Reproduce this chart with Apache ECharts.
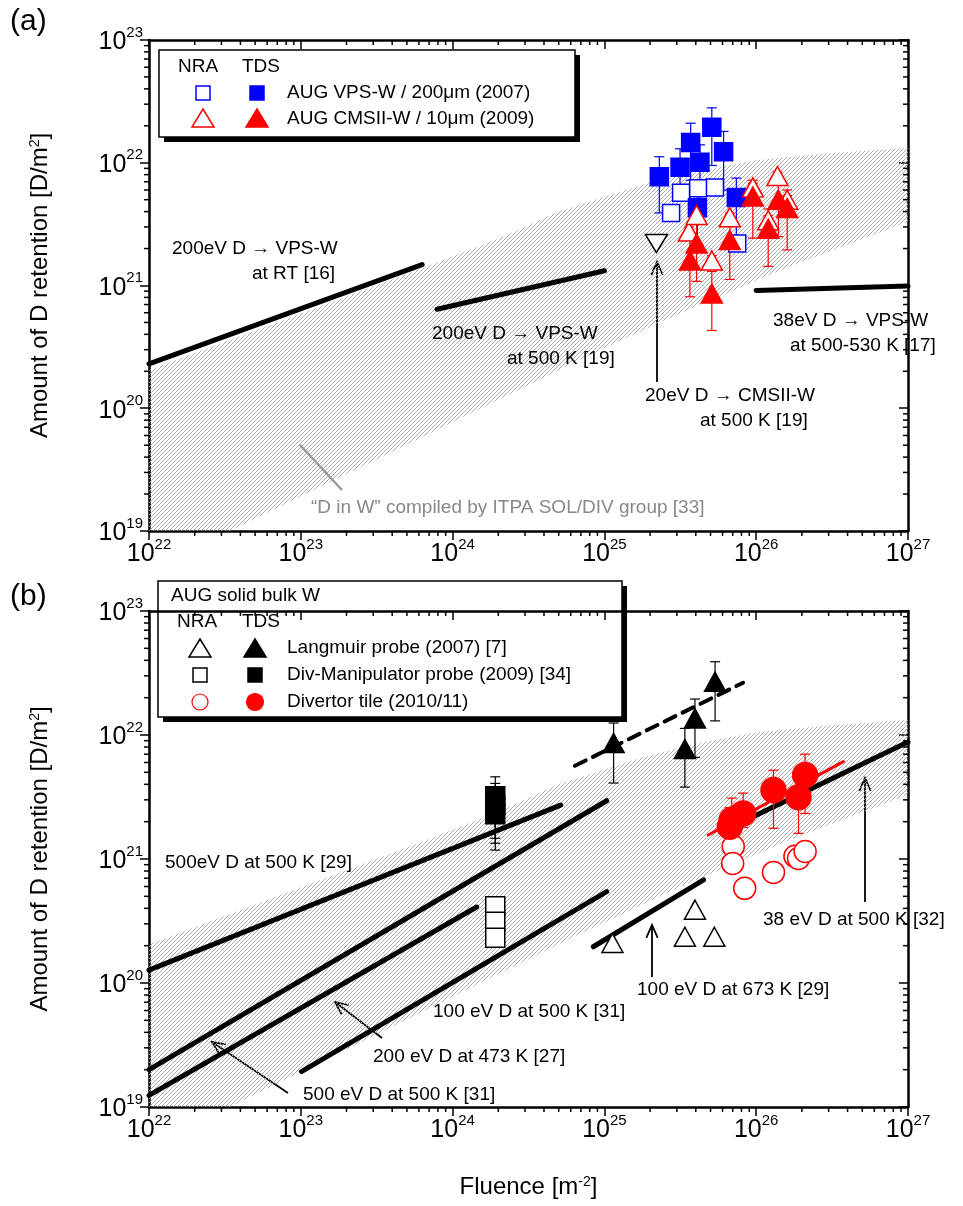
<!DOCTYPE html>
<html>
<head>
<meta charset="utf-8">
<script src="https://cdn.jsdelivr.net/npm/echarts@6.0.0/dist/echarts.min.js"></script>
<style>
html, body { margin: 0; padding: 0; background: #fff; }
#chart { width: 963px; height: 1206px; }
</style>
</head>
<body>
<div id="chart"></div>
<script>
const FONT = 'Liberation Sans, Arial, sans-serif';

/* ---- panel (a): AUG VPS-W and CMSII-W coatings ---- */
// [fluence, retention, errLow, errHigh]
const vpsTds = [
    [2.3e25, 7.7e21, 3.9e21, 1.12e22],
    [3.15e25, 9.2e21, 5.5e21, 1.3e22],
    [3.7e25, 1.46e22, 7.2e21, 2.1e22],
    [4.26e25, 1.01e22, 4.4e21, 1.4e22],
    [5.1e25, 1.95e22, 9.5e21, 2.8e22],
    [6.1e25, 1.23e22, 6.0e21, 1.8e22],
    [7.4e25, 5.2e21, 2.5e21, 7.5e21],
    [4.1e25, 4.3e21, 2.0e21, 6.5e21]
];
const vpsNra = [
    [2.75e25, 3.9e21, 3.6e21, 4.2e21],
    [3.2e25, 5.7e21, 5.3e21, 6.2e21],
    [4.15e25, 6.2e21, 5.8e21, 6.7e21],
    [5.35e25, 6.3e21, 5.9e21, 6.8e21],
    [7.5e25, 2.2e21, 2.05e21, 2.4e21]
];
const cmsTds = [
    [3.66e25, 1.6e21, 8.1e20, 2.35e21],
    [4.05e25, 2.2e21, 1.08e21, 3.2e21],
    [5.1e25, 8.6e20, 4.3e20, 1.3e21],
    [6.7e25, 2.35e21, 1.12e21, 3.3e21],
    [9.5e25, 5.3e21, 2.43e21, 7.2e21],
    [1.2e26, 2.9e21, 1.43e21, 4.2e21],
    [1.4e26, 5.0e21, 2.5e21, 7.0e21],
    [1.6e26, 4.27e21, 1.95e21, 6.0e21]
];
const cmsNra = [
    [3.6e25, 2.75e21, 2.5e21, 3.0e21],
    [4.05e25, 3.75e21, 3.4e21, 4.1e21],
    [5.1e25, 1.6e21, 1.45e21, 1.75e21],
    [6.7e25, 3.6e21, 3.3e21, 3.9e21],
    [9.5e25, 6.3e21, 5.8e21, 6.8e21],
    [1.2e26, 3.4e21, 3.1e21, 3.7e21],
    [1.38e26, 7.8e21, 7.2e21, 8.4e21],
    [1.6e26, 5.0e21, 4.6e21, 5.4e21]
];
const cmsRef20eV = [[2.2e25, 2.2e21]];
const lineRT = [[1e22, 2.3e20], [6.3e23, 1.48e21]];
const line500K19 = [[7.9e23, 6.4e20], [1e25, 1.32e21]];
const line38eV17 = [[1e26, 9.1e20], [1e27, 9.9e20]];

/* ---- panel (b): AUG solid bulk W ---- */
const langTds = [
    [1.15e25, 8.6e21, 4.1e21, 1.25e22],
    [3.39e25, 7.7e21, 3.8e21, 1.13e22],
    [3.95e25, 1.36e22, 6.6e21, 1.95e22],
    [5.36e25, 2.69e22, 1.3e22, 3.9e22]
];
const langNra = [[1.13e25, 2.1e20], [3.39e25, 2.36e20], [3.95e25, 3.9e20], [5.3e25, 2.36e20]];
const divTds = [
    [1.91e24, 3.2e21, 1.47e21, 4.6e21],
    [1.91e24, 2.7e21, 1.34e21, 4.07e21],
    [1.91e24, 2.3e21, 1.18e21, 3.4e21]
];
const divNra = [[1.91e24, 4.15e20], [1.91e24, 3.12e20], [1.91e24, 2.32e20]];
const tileTds = [
    [6.7e25, 1.82e21, 1.2e21, 2.6e21],
    [6.9e25, 2.07e21, 1.6e21, 3.1e21],
    [8.2e25, 2.33e21, 1.8e21, 3.4e21],
    [1.3e26, 3.6e21, 1.77e21, 5.2e21],
    [1.9e26, 3.15e21, 1.61e21, 4.5e21],
    [2.1e26, 4.75e21, 2.33e21, 7.0e21]
];
const tileNra = [
    [7.06e25, 1.26e21, 1.16e21, 1.36e21],
    [7.0e25, 9.2e20, 8.5e20, 1.0e21],
    [8.4e25, 5.8e20, 5.4e20, 6.2e20],
    [1.3e26, 7.8e20, 7.2e20, 8.4e20],
    [1.8e26, 1.05e21, 9.7e20, 1.13e21],
    [1.9e26, 1.01e21, 9.3e20, 1.09e21],
    [2.1e26, 1.15e21, 1.06e21, 1.24e21]
];
const line500eV29 = [[1e22, 1.27e20], [5.15e24, 2.72e21]];
const line500eV31 = [[1e22, 2.0e19], [1.035e25, 2.95e21]];
const line200eV27 = [[1e22, 1.24e19], [1.44e24, 4.1e20]];
const line100eV31 = [[1.01e23, 1.93e19], [1.035e25, 5.45e20]];
const line100eV673 = [[8.45e24, 1.96e20], [4.5e25, 6.8e20]];
const line38eV32 = [[8.4e25, 2.03e21], [1e27, 8.8e21]];
const langFit = [[6.4e24, 5.65e21], [8.2e25, 2.64e22]];
const tileFit = [[4.83e25, 1.56e21], [3.75e26, 6.1e21]];

/* "D in W" ITPA band, same in both panels */
const bandUpper = [[1e22, 2.04e20], [1e23, 5.9e20], [6.3e23, 1.38e21], [2e24, 2.4e21], [5e24, 4.0e21],
    [1.7e25, 6.5e21], [4e25, 8.5e21], [1e26, 1.05e22], [3.2e26, 1.2e22], [1e27, 1.32e22]];
const bandLower = [[1e22, 5e18], [3.7e22, 1.05e19], [4.9e23, 5.0e19], [6.9e24, 2.5e20], [3.2e25, 6.0e20],
    [1.6e26, 1.4e21], [1e27, 3.3e21]];

/* axis ticks */
const xDecades = [1e22, 1e23, 1e24, 1e25, 1e26];
const yDecades = [1e19, 1e20, 1e21, 1e22];
const minorSteps = [2, 3, 4, 5, 6, 7, 8, 9];

let minorX = [];
xDecades.forEach(d => minorSteps.forEach(m => minorX.push(m * d)));
let minorY = [];
yDecades.forEach(d => minorSteps.forEach(m => minorY.push(m * d)));

/* hatch pattern for the band */
let hc = document.createElement('canvas');
hc.width = 4;
hc.height = 4;
let hg = hc.getContext('2d');
hg.strokeStyle = '#a2a2a2';
hg.lineWidth = 0.9;
hg.beginPath();
hg.moveTo(0, 4); hg.lineTo(4, 0);
hg.moveTo(-1, 1); hg.lineTo(1, -1);
hg.moveTo(3, 5); hg.lineTo(5, 3);
hg.stroke();
const hatch = {image: hc, repeat: 'repeat'};

const RICH = {
    a: {fontSize: 25, fontFamily: FONT, color: '#000', lineHeight: 30, verticalAlign: 'bottom'},
    b: {fontSize: 15, fontFamily: FONT, color: '#000', lineHeight: 16, verticalAlign: 'top'}
};
const NAME_RICH = {
    s: {fontSize: 14, fontFamily: FONT, color: '#000', lineHeight: 14, verticalAlign: 'top'}
};

function xAx(gi, pos, labels, name) {
    return {
        type: 'log', logBase: 10, gridIndex: gi, position: pos, min: 1e22, max: 1e27, splitNumber: 5,
        name: name || '', nameLocation: 'middle', nameGap: 68,
        nameTextStyle: {fontSize: 24, fontFamily: FONT, color: '#000', rich: NAME_RICH},
        axisLine: {show: true, onZero: false, lineStyle: {color: '#000', width: 2.5}},
        axisTick: {show: true, inside: pos === 'top', length: 9, lineStyle: {color: '#000', width: 1.5}},
        axisLabel: {
            show: labels, margin: 6,
            formatter: v => '{a|10}{b|' + Math.round(Math.log10(v)) + '}', rich: RICH
        },
        splitLine: {show: false}
    };
}

function yAx(gi, pos, labels) {
    return {
        type: 'log', logBase: 10, gridIndex: gi, position: pos, min: 1e19, max: 1e23, splitNumber: 4,
        name: labels ? 'Amount of D retention [D/m{s|2}]' : '', nameLocation: 'middle', nameGap: 97,
        nameRotate: 90,
        nameTextStyle: {fontSize: 24, fontFamily: FONT, color: '#000', rich: NAME_RICH},
        axisLine: {show: true, onZero: false, lineStyle: {color: '#000', width: 2.5}},
        axisTick: {show: true, inside: pos === 'right', length: 9, lineStyle: {color: '#000', width: 1.5}},
        axisLabel: {
            show: labels, margin: 6,
            formatter: v => '{a|10}{b|' + Math.round(Math.log10(v)) + '}', rich: RICH
        },
        splitLine: {show: false}
    };
}

function bandSeries(xi, yi) {
    return {
        type: 'custom', xAxisIndex: xi, yAxisIndex: yi, clip: true, silent: true, z: 1,
        data: [[1e24, 1e21]],
        renderItem: function (params, api) {
            let pts = bandUpper.map(p => api.coord(p));
            pts = pts.concat(bandLower.slice().reverse().map(p => api.coord(p)));
            return {type: 'polygon', shape: {points: pts}, style: {fill: hatch, stroke: null}};
        }
    };
}

function minorTicks(xi, yi) {
    return {
        type: 'custom', xAxisIndex: xi, yAxisIndex: yi, silent: true, z: 6,
        data: [[1e24, 1e21]],
        renderItem: function (params, api) {
            let ch = [];
            let st = {stroke: '#000', lineWidth: 1.5};
            minorX.forEach(v => {
                let b = api.coord([v, 1e19]);
                let t = api.coord([v, 1e23]);
                ch.push({type: 'line', shape: {x1: b[0], y1: b[1], x2: b[0], y2: b[1] + 5}, style: st});
                ch.push({type: 'line', shape: {x1: t[0], y1: t[1], x2: t[0], y2: t[1] + 5}, style: st});
            });
            minorY.forEach(v => {
                let l = api.coord([1e22, v]);
                let r = api.coord([1e27, v]);
                ch.push({type: 'line', shape: {x1: l[0] - 5, y1: l[1], x2: l[0], y2: l[1]}, style: st});
                ch.push({type: 'line', shape: {x1: r[0] - 5, y1: r[1], x2: r[0], y2: r[1]}, style: st});
            });
            return {type: 'group', children: ch};
        }
    };
}

function errBars(data, color, xi, yi) {
    return {
        type: 'custom', xAxisIndex: xi, yAxisIndex: yi, silent: true, z: 3,
        data: data,
        renderItem: function (params, api) {
            let x = api.value(0);
            let a = api.coord([x, api.value(2)]);
            let b = api.coord([x, api.value(3)]);
            let st = {stroke: color, lineWidth: 1.2};
            return {
                type: 'group', children: [
                    {type: 'line', shape: {x1: a[0], y1: a[1], x2: b[0], y2: b[1]}, style: st},
                    {type: 'line', shape: {x1: a[0] - 5, y1: a[1], x2: a[0] + 5, y2: a[1]}, style: st},
                    {type: 'line', shape: {x1: b[0] - 5, y1: b[1], x2: b[0] + 5, y2: b[1]}, style: st}
                ]
            };
        }
    };
}

function marks(data, symbol, size, fill, stroke, xi, yi, rotate) {
    return {
        type: 'scatter', xAxisIndex: xi, yAxisIndex: yi, symbol: symbol, symbolSize: size,
        symbolRotate: rotate || 0, z: 4, silent: true,
        data: data.map(d => [d[0], d[1]]),
        itemStyle: {color: fill, borderColor: stroke, borderWidth: 1.5, opacity: 1}
    };
}

function seg(data, xi, yi, color, width, type) {
    return {
        type: 'line', xAxisIndex: xi, yAxisIndex: yi, data: data, symbol: 'none', silent: true, z: 2,
        lineStyle: {color: color, width: width, type: type || 'solid', cap: 'round'}
    };
}

function txt(x, y, s, opts) {
    opts = opts || {};
    return {
        type: 'text', x: x, y: y, z: opts.z || 5,
        style: {
            text: s, font: (opts.size || 19) + 'px ' + FONT, fill: opts.color || '#000',
            textAlign: opts.align || 'left', textVerticalAlign: 'middle', verticalAlign: 'middle'
        }
    };
}

function arrow(x1, y1, x2, y2, color, w) {
    let ang = Math.atan2(y2 - y1, x2 - x1);
    let L = 14, A = 0.42;
    return {
        type: 'group', z: 5, children: [
            {type: 'line', shape: {x1: x1, y1: y1, x2: x2, y2: y2}, style: {stroke: color, lineWidth: w}},
            {
                type: 'polyline', shape: {
                    points: [[x2 - L * Math.cos(ang - A), y2 - L * Math.sin(ang - A)], [x2, y2],
                        [x2 - L * Math.cos(ang + A), y2 - L * Math.sin(ang + A)]]
                }, style: {stroke: color, lineWidth: w, fill: null}
            }
        ]
    };
}

function legSquare(cx, cy, color, filled) {
    return {type: 'rect', shape: {x: cx - 7, y: cy - 7, width: 14, height: 14},
        style: {fill: filled ? color : '#fff', stroke: color, lineWidth: 1.5}};
}
function legTri(cx, cy, color, filled) {
    return {type: 'polygon', shape: {points: [[cx, cy - 10], [cx + 11, cy + 8], [cx - 11, cy + 8]]},
        style: {fill: filled ? color : '#fff', stroke: color, lineWidth: 1.5}};
}
function legCircle(cx, cy, color, filled) {
    return {type: 'circle', shape: {cx: cx, cy: cy, r: filled ? 8.5 : 8},
        style: {fill: filled ? color : '#fff', stroke: color, lineWidth: 1.2}};
}

let legendA = {
    type: 'group', z: 100, children: [
        {type: 'rect', shape: {x: 164, y: 55, width: 416, height: 87}, style: {fill: '#000'}},
        {type: 'rect', shape: {x: 159, y: 50, width: 416, height: 87}, style: {fill: '#fff', stroke: '#000', lineWidth: 1.5}},
        txt(178, 67, 'NRA', {z: 101}), txt(242, 67, 'TDS', {z: 101}),
        legSquare(203, 93, '#0000ff', false), legSquare(257, 93, '#0000ff', true),
        legTri(203, 119, '#ff0000', false), legTri(257, 119, '#ff0000', true),
        txt(287, 93, 'AUG VPS-W / 200\u03bcm (2007)', {z: 101}),
        txt(287, 119, 'AUG CMSII-W / 10\u03bcm (2009)', {z: 101})
    ]
};

let legendB = {
    type: 'group', z: 100, children: [
        {type: 'rect', shape: {x: 163, y: 586, width: 464, height: 136}, style: {fill: '#000'}},
        {type: 'rect', shape: {x: 158, y: 581, width: 464, height: 136}, style: {fill: '#fff', stroke: '#000', lineWidth: 1.5}},
        txt(171, 596, 'AUG solid bulk W', {z: 101}),
        txt(177, 622, 'NRA', {z: 101}), txt(242, 622, 'TDS', {z: 101}),
        legTri(200, 649, '#000', false), legTri(255, 649, '#000', true),
        legSquare(200, 675, '#000', false), legSquare(255, 675, '#000', true),
        legCircle(200, 702, '#ff0000', false), legCircle(255, 702, '#ff0000', true),
        txt(287, 648, 'Langmuir probe (2007) [7]', {z: 101}),
        txt(287, 675, 'Div-Manipulator probe (2009) [34]', {z: 101}),
        txt(287, 702, 'Divertor tile (2010/11)', {z: 101})
    ]
};

let chart = echarts.init(document.getElementById('chart'), null, {renderer: 'canvas'});
let option = {
    animation: false,
    backgroundColor: '#fff',
    textStyle: {fontFamily: FONT},
    grid: [
        {left: 149, top: 40, width: 759, height: 491},
        {left: 149, top: 611, width: 759, height: 496}
    ],
    xAxis: [
        xAx(0, 'bottom', true), xAx(0, 'top', false),
        xAx(1, 'bottom', true, 'Fluence [m{s|-2}]'), xAx(1, 'top', false)
    ],
    yAxis: [
        yAx(0, 'left', true), yAx(0, 'right', false),
        yAx(1, 'left', true), yAx(1, 'right', false)
    ],
    series: [
        bandSeries(0, 0), bandSeries(2, 2),
        minorTicks(0, 0), minorTicks(2, 2),

        seg(lineRT, 0, 0, '#000', 5),
        seg(line500K19, 0, 0, '#000', 5),
        seg(line38eV17, 0, 0, '#000', 5),
        errBars(vpsTds, '#0000ff', 0, 0),
        errBars(vpsNra, '#0000ff', 0, 0),
        errBars(cmsTds, '#ff0000', 0, 0),
        errBars(cmsNra, '#ff0000', 0, 0),
        marks(vpsNra, 'rect', 17, '#fff', '#0000ff', 0, 0),
        marks(vpsTds, 'rect', 18, '#0000ff', '#0000ff', 0, 0),
        marks(cmsNra, 'triangle', [21, 19], '#fff', '#ff0000', 0, 0),
        marks(cmsTds, 'triangle', [21, 19], '#ff0000', '#ff0000', 0, 0),
        marks(cmsRef20eV, 'triangle', [22, 18], '#fff', '#000', 0, 0, 180),

        seg(line500eV29, 2, 2, '#000', 5),
        seg(line500eV31, 2, 2, '#000', 5),
        seg(line200eV27, 2, 2, '#000', 5),
        seg(line100eV31, 2, 2, '#000', 5),
        seg(line100eV673, 2, 2, '#000', 5),
        seg(line38eV32, 2, 2, '#000', 5),
        seg(langFit, 2, 2, '#000', 4, [12, 8]),
        seg(tileFit, 2, 2, '#ff0000', 3),
        errBars(langTds, '#000', 2, 2),
        errBars(divTds, '#000', 2, 2),
        errBars(tileTds, '#ff0000', 2, 2),
        errBars(tileNra, '#ff0000', 2, 2),
        marks(langNra, 'triangle', [21, 19], '#fff', '#000', 2, 2),
        marks(divNra, 'rect', 19, '#fff', '#000', 2, 2),
        marks(tileNra, 'circle', 22, '#fff', '#ff0000', 2, 2),
        marks(langTds, 'triangle', [21, 19], '#000', '#000', 2, 2),
        marks(divTds, 'rect', 19, '#000', '#000', 2, 2),
        marks(tileTds, 'circle', 25, '#ff0000', '#ff0000', 2, 2)
    ],
    graphic: [
        txt(10, 22, '(a)', {size: 30}),
        txt(10, 597, '(b)', {size: 30}),

        txt(172, 249, '200eV D \u2192 VPS-W'),
        txt(252, 274, 'at RT [16]'),
        txt(432, 334, '200eV D \u2192 VPS-W'),
        txt(507, 359, 'at 500 K [19]'),
        txt(773, 321, '38eV D \u2192 VPS-W'),
        txt(790, 346, 'at 500-530 K [17]'),
        txt(645, 396, '20eV D \u2192 CMSII-W'),
        txt(700, 421, 'at 500 K [19]'),
        arrow(657, 382, 657, 262, '#000', 1.8),
        {type: 'line', z: 5, shape: {x1: 300, y1: 445, x2: 342, y2: 490}, style: {stroke: '#9a9a9a', lineWidth: 2.5}},
        txt(311, 508, '\u201cD in W\u201d compiled by ITPA SOL/DIV group [33]', {color: '#888'}),
        legendA,

        txt(165, 863, '500eV D at 500 K [29]'),
        txt(433, 1012, '100 eV D at 500 K [31]'),
        txt(373, 1057, '200 eV D at 473 K [27]'),
        txt(303, 1095, '500 eV D at 500 K [31]'),
        txt(637, 990, '100 eV D at 673 K [29]'),
        txt(763, 920, '38 eV D at 500 K [32]'),
        arrow(382, 1038, 335, 1002, '#000', 1.8),
        arrow(288, 1093, 212, 1042, '#000', 1.8),
        arrow(652, 977, 652, 925, '#000', 1.8),
        arrow(865, 902, 865, 778, '#000', 1.8),
        legendB
    ]
};
chart.setOption(option);
</script>
</body>
</html>
